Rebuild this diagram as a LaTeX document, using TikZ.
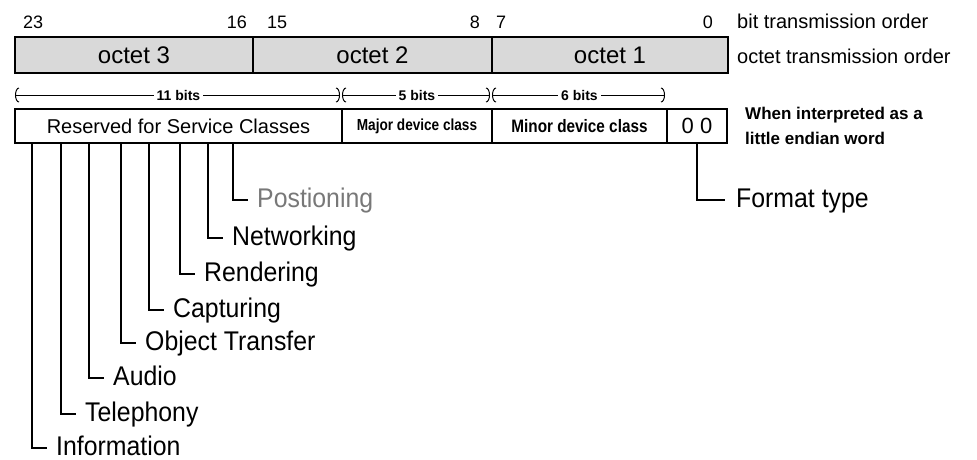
\documentclass[tikz,border=0pt]{standalone}
\usepackage{fontspec}
\setmainfont{Liberation Sans}
\newfontfamily\narrowfont[FakeStretch=0.92]{Liberation Sans}
\newfontfamily\slimfont[FakeStretch=0.85]{Liberation Sans}
\usetikzlibrary{positioning,arrows.meta}
\definecolor{octetgray}{RGB}{217,217,217}
\definecolor{labelgray}{RGB}{120,120,120}
\tikzset{
  octet/.style={draw, line width=1.6pt, fill=octetgray, minimum height=36pt, inner sep=0pt, outer sep=0pt, font=\fontsize{24}{24}\selectfont},
  field/.style={draw, line width=1.6pt, minimum height=34pt, inner sep=0pt, outer sep=0pt},
  bitnum/.style={anchor=base west, inner sep=0pt, font=\fontsize{18}{18}\selectfont},
  note/.style={anchor=base west, inner sep=0pt, font=\fontsize{20}{20}\selectfont},
  span/.style={line width=1pt, shorten >=2pt, {Arc Barb[length=4pt,width=15pt]}-{Arc Barb[length=4pt,width=15pt]}},
  spanlabel/.style={fill=white, inner xsep=3pt, inner ysep=1pt, font=\bfseries\fontsize{14}{14}\selectfont},
  classlabel/.style={anchor=west, inner sep=0pt, text height=16pt, text depth=2pt, font=\narrowfont\fontsize{27}{27}\selectfont},
  tree/.style={line width=2pt}
}
\begin{document}
\begin{tikzpicture}[x=1pt, y=-1pt]
  \useasboundingbox (0,0) rectangle (977,459);

  % bit numbers above the octets
  \node[bitnum] (b23) at (23,28) {23};
  \node[bitnum, anchor=base east] (b16) at (247,28) {16};
  \node[bitnum] (b15) at (267,28) {15};
  \node[bitnum, anchor=base east] (b8) at (480,28) {8};
  \node[bitnum] (b7) at (496,28) {7};
  \node[bitnum, anchor=base east] (b0) at (713,28) {0};

  % octet row
  \node[octet, anchor=north west, minimum width=238pt] (oct3) at (15,37) {octet 3};
  \node[octet, minimum width=239pt, right=0pt of oct3] (oct2) {octet 2};
  \node[octet, minimum width=236pt, right=0pt of oct2] (oct1) {octet 1};
  \node[note] (bitorder) at (737,28) {bit transmission order};
  \node[note] (octorder) at (737,63) {octet transmission order};

  % field row
  \node[field, anchor=north west, minimum width=327pt, font=\fontsize{20}{20}\selectfont] (reserved) at (15,109) {Reserved for Service Classes};
  \node[field, minimum width=150pt, right=0pt of reserved, font=\slimfont\bfseries\fontsize{16}{16}\selectfont] (major) {Major device class};
  \node[field, minimum width=175pt, right=0pt of major, font=\slimfont\bfseries\fontsize{18}{18}\selectfont] (minor) {Minor device class};
  \node[field, minimum width=60pt, right=0pt of minor, font=\fontsize{22}{22}\selectfont] (fmt) {0 0};
  \node[anchor=north west, inner sep=0pt, align=left, font=\bfseries\fontsize{17}{25}\selectfont] (endian) at (745,107) {When interpreted as a\\little endian word};

  % field widths
  \draw[span] ([yshift=14pt]reserved.north west) -- node[spanlabel] (w11) {11 bits} ([yshift=14pt]reserved.north east);
  \draw[span] ([yshift=14pt]major.north west) -- node[spanlabel] (w5) {5 bits} ([yshift=14pt]major.north east);
  \draw[span] ([yshift=14pt]minor.north west) -- node[spanlabel] (w6) {6 bits} ([yshift=14pt]minor.north east);

  % service class bits
  \foreach \dx/\ly/\name/\txt/\col in {17/448/info/Information/black, 46/414/tele/Telephony/black,
      74/378/audio/Audio/black, 106/343/objtr/Object Transfer/black, 134/310/capt/Capturing/black,
      165/274/rend/Rendering/black, 193/238/netw/Networking/black, 218/200/posn/Postioning/labelgray}
  {
    \node[classlabel, text=\col] (\name) at ({15+\dx+24},\ly) {\txt};
    \draw[tree] ([xshift=\dx pt]reserved.south west) |- ([xshift=-9pt]\name.west);
  }

  % format type
  \node[classlabel] (fmtlabel) at (736,200) {Format type};
  \draw[tree] (fmt.south) |- ([xshift=-11pt]fmtlabel.west);
\end{tikzpicture}
\end{document}
